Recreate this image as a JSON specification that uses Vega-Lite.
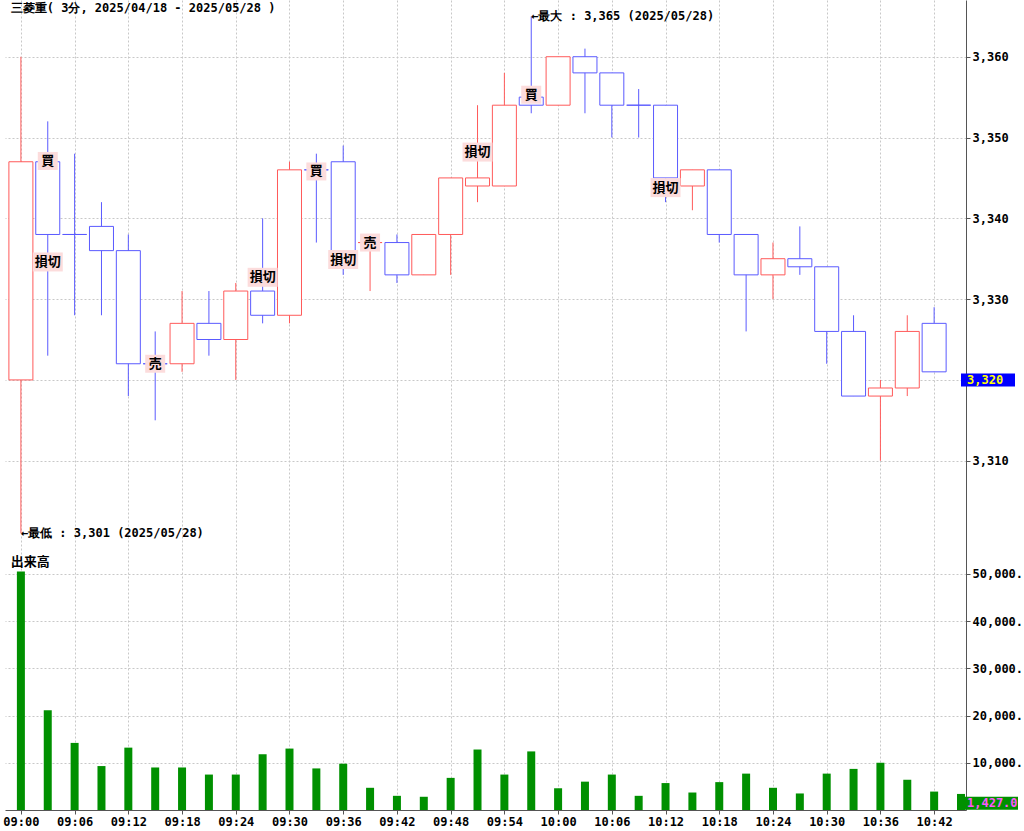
{
  "$schema": "https://vega.github.io/schema/vega-lite/v6.json",
  "width": 961,
  "height": 810,
  "autosize": {"type": "none"},
  "padding": {"left": 5, "top": 0, "right": 58, "bottom": 21},
  "background": "white",
  "config": {
    "view": {"stroke": null},
    "axis": {
      "labelFont": "DejaVu Sans Mono",
      "labelFontSize": 12,
      "labelFontWeight": "bold",
      "labelColor": "#000000",
      "gridColor": "#C8C8C8",
      "gridDash": [2, 2],
      "gridWidth": 1,
      "domainColor": "#555555",
      "tickColor": "#555555",
      "tickSize": 4,
      "labelPadding": 2
    }
  },
  "datasets": {
    "candles": [
      {"t": "2025-05-28T09:00:00", "open": 3320, "high": 3360, "low": 3301, "close": 3347, "dir": "up", "volume": 50500},
      {"t": "2025-05-28T09:03:00", "open": 3347, "high": 3352, "low": 3323, "close": 3338, "dir": "down", "volume": 21100},
      {"t": "2025-05-28T09:06:00", "open": 3338, "high": 3348, "low": 3328, "close": 3338, "dir": "down", "volume": 14200},
      {"t": "2025-05-28T09:09:00", "open": 3339, "high": 3342, "low": 3328, "close": 3336, "dir": "down", "volume": 9300},
      {"t": "2025-05-28T09:12:00", "open": 3336, "high": 3338, "low": 3318, "close": 3322, "dir": "down", "volume": 13200},
      {"t": "2025-05-28T09:15:00", "open": 3322, "high": 3326, "low": 3315, "close": 3322, "dir": "down", "volume": 9000},
      {"t": "2025-05-28T09:18:00", "open": 3322, "high": 3331, "low": 3321, "close": 3327, "dir": "up", "volume": 9000},
      {"t": "2025-05-28T09:21:00", "open": 3327, "high": 3331, "low": 3323, "close": 3325, "dir": "down", "volume": 7500},
      {"t": "2025-05-28T09:24:00", "open": 3325, "high": 3332, "low": 3320, "close": 3331, "dir": "up", "volume": 7500},
      {"t": "2025-05-28T09:27:00", "open": 3331, "high": 3340, "low": 3327, "close": 3328, "dir": "down", "volume": 11800},
      {"t": "2025-05-28T09:30:00", "open": 3328, "high": 3347, "low": 3327, "close": 3346, "dir": "up", "volume": 13000},
      {"t": "2025-05-28T09:33:00", "open": 3346, "high": 3348, "low": 3337, "close": 3346, "dir": "down", "volume": 8800},
      {"t": "2025-05-28T09:36:00", "open": 3347, "high": 3349, "low": 3333, "close": 3336, "dir": "down", "volume": 9800},
      {"t": "2025-05-28T09:39:00", "open": 3337, "high": 3338, "low": 3331, "close": 3337, "dir": "up", "volume": 4700},
      {"t": "2025-05-28T09:42:00", "open": 3337, "high": 3338, "low": 3332, "close": 3333, "dir": "down", "volume": 3000},
      {"t": "2025-05-28T09:45:00", "open": 3333, "high": 3338, "low": 3333, "close": 3338, "dir": "up", "volume": 2800},
      {"t": "2025-05-28T09:48:00", "open": 3338, "high": 3345, "low": 3333, "close": 3345, "dir": "up", "volume": 6800},
      {"t": "2025-05-28T09:51:00", "open": 3344, "high": 3354, "low": 3342, "close": 3345, "dir": "up", "volume": 12800},
      {"t": "2025-05-28T09:54:00", "open": 3344, "high": 3358, "low": 3344, "close": 3354, "dir": "up", "volume": 7500},
      {"t": "2025-05-28T09:57:00", "open": 3355, "high": 3365, "low": 3353, "close": 3354, "dir": "down", "volume": 12400},
      {"t": "2025-05-28T10:00:00", "open": 3354, "high": 3360, "low": 3354, "close": 3360, "dir": "up", "volume": 4600},
      {"t": "2025-05-28T10:03:00", "open": 3360, "high": 3361, "low": 3353, "close": 3358, "dir": "down", "volume": 6000},
      {"t": "2025-05-28T10:06:00", "open": 3358, "high": 3358, "low": 3350, "close": 3354, "dir": "down", "volume": 7500},
      {"t": "2025-05-28T10:09:00", "open": 3354, "high": 3356, "low": 3350, "close": 3354, "dir": "down", "volume": 3000},
      {"t": "2025-05-28T10:12:00", "open": 3354, "high": 3354, "low": 3342, "close": 3345, "dir": "down", "volume": 5700},
      {"t": "2025-05-28T10:15:00", "open": 3344, "high": 3346, "low": 3341, "close": 3346, "dir": "up", "volume": 3700},
      {"t": "2025-05-28T10:18:00", "open": 3346, "high": 3346, "low": 3337, "close": 3338, "dir": "down", "volume": 5900},
      {"t": "2025-05-28T10:21:00", "open": 3338, "high": 3338, "low": 3326, "close": 3333, "dir": "down", "volume": 7700},
      {"t": "2025-05-28T10:24:00", "open": 3333, "high": 3337, "low": 3330, "close": 3335, "dir": "up", "volume": 4700},
      {"t": "2025-05-28T10:27:00", "open": 3335, "high": 3339, "low": 3333, "close": 3334, "dir": "down", "volume": 3500},
      {"t": "2025-05-28T10:30:00", "open": 3334, "high": 3334, "low": 3322, "close": 3326, "dir": "down", "volume": 7700},
      {"t": "2025-05-28T10:33:00", "open": 3326, "high": 3328, "low": 3318, "close": 3318, "dir": "down", "volume": 8700},
      {"t": "2025-05-28T10:36:00", "open": 3318, "high": 3320, "low": 3310, "close": 3319, "dir": "up", "volume": 10000},
      {"t": "2025-05-28T10:39:00", "open": 3319, "high": 3328, "low": 3318, "close": 3326, "dir": "up", "volume": 6400},
      {"t": "2025-05-28T10:42:00", "open": 3327, "high": 3329, "low": 3321, "close": 3321, "dir": "down", "volume": 3900},
      {"t": "2025-05-28T10:45:00", "dir": "down", "volume": 3400}
    ],
    "signals": [
      {"t": "2025-05-28T09:03:00", "price": 3347.1, "label": "買"},
      {"t": "2025-05-28T09:03:00", "price": 3334.6, "label": "損切"},
      {"t": "2025-05-28T09:15:00", "price": 3322, "label": "売"},
      {"t": "2025-05-28T09:27:00", "price": 3332.7, "label": "損切"},
      {"t": "2025-05-28T09:33:00", "price": 3345.8, "label": "買"},
      {"t": "2025-05-28T09:36:00", "price": 3334.9, "label": "損切"},
      {"t": "2025-05-28T09:39:00", "price": 3337, "label": "売"},
      {"t": "2025-05-28T09:51:00", "price": 3348.2, "label": "損切"},
      {"t": "2025-05-28T09:57:00", "price": 3355.3, "label": "買"},
      {"t": "2025-05-28T10:12:00", "price": 3343.8, "label": "損切"}
    ],
    "notes": [
      {"t": "2025-05-28T08:58:52", "price": 3366, "note": "三菱重( 3分, 2025/04/18 - 2025/05/28 )"},
      {"t": "2025-05-28T09:57:00", "price": 3365, "note": "←最大 : 3,365 (2025/05/28)"},
      {"t": "2025-05-28T09:00:00", "price": 3301, "note": "←最低 : 3,301 (2025/05/28)"}
    ],
    "lastPrice": [
      {"t": "2025-05-28T10:45:00", "price": 3320, "text": "3,320"}
    ],
    "volNotes": [
      {"t": "2025-05-28T08:58:52", "volume": 52500, "note": "出来高"}
    ],
    "lastVolume": [
      {"t": "2025-05-28T10:45:00", "volume": 1427, "text": "1,427.0"}
    ]
  },
  "layer": [
    {
      "layer": [
        {
          "data": {"name": "candles"},
          "mark": {"type": "rule", "strokeWidth": 1},
          "encoding": {
            "x": {"field": "t", "type": "temporal", "title": null,
              "scale": {"domain": [{"year": 2025, "month": 5, "date": 28, "hours": 8, "minutes": 58, "seconds": 47}, {"year": 2025, "month": 5, "date": 28, "hours": 10, "minutes": 45}], "nice": false},
              "axis": {"orient": "bottom", "format": "%H:%M", "grid": true, "labelFlush": false, "labelOverlap": false, "title": null,
                "values": [
                  {"year": 2025, "month": 5, "date": 28, "hours": 9, "minutes": 0},
                  {"year": 2025, "month": 5, "date": 28, "hours": 9, "minutes": 6},
                  {"year": 2025, "month": 5, "date": 28, "hours": 9, "minutes": 12},
                  {"year": 2025, "month": 5, "date": 28, "hours": 9, "minutes": 18},
                  {"year": 2025, "month": 5, "date": 28, "hours": 9, "minutes": 24},
                  {"year": 2025, "month": 5, "date": 28, "hours": 9, "minutes": 30},
                  {"year": 2025, "month": 5, "date": 28, "hours": 9, "minutes": 36},
                  {"year": 2025, "month": 5, "date": 28, "hours": 9, "minutes": 42},
                  {"year": 2025, "month": 5, "date": 28, "hours": 9, "minutes": 48},
                  {"year": 2025, "month": 5, "date": 28, "hours": 9, "minutes": 54},
                  {"year": 2025, "month": 5, "date": 28, "hours": 10, "minutes": 0},
                  {"year": 2025, "month": 5, "date": 28, "hours": 10, "minutes": 6},
                  {"year": 2025, "month": 5, "date": 28, "hours": 10, "minutes": 12},
                  {"year": 2025, "month": 5, "date": 28, "hours": 10, "minutes": 18},
                  {"year": 2025, "month": 5, "date": 28, "hours": 10, "minutes": 24},
                  {"year": 2025, "month": 5, "date": 28, "hours": 10, "minutes": 30},
                  {"year": 2025, "month": 5, "date": 28, "hours": 10, "minutes": 36},
                  {"year": 2025, "month": 5, "date": 28, "hours": 10, "minutes": 42}
                ]}},
            "y": {"field": "low", "type": "quantitative", "title": null,
              "scale": {"domain": [3266.77, 3367.02], "nice": false, "zero": false},
              "axis": {"orient": "right", "values": [3310, 3320, 3330, 3340, 3350, 3360], "labelExpr": "datum.value == 3320 ? '' : format(datum.value, ',')", "grid": true, "title": null}},
            "y2": {"field": "high"},
            "stroke": {"field": "dir", "type": "nominal", "scale": {"domain": ["up", "down"], "range": ["#FF5A5A", "#5A5AFF"]}, "legend": null}
          }
        },
        {
          "data": {"name": "candles"},
          "mark": {"type": "bar", "width": 24, "fill": "white", "strokeWidth": 1},
          "encoding": {
            "x": {"field": "t", "type": "temporal", "title": null},
            "y": {"field": "open", "type": "quantitative", "title": null},
            "y2": {"field": "close"},
            "stroke": {"field": "dir", "type": "nominal", "legend": null}
          }
        },
        {
          "data": {"name": "signals"},
          "transform": [{"filter": "datum.label != '損切'"}],
          "mark": {"type": "rect", "color": "#FCDCDC", "xOffset": -10, "x2Offset": 10, "yOffset": -9, "y2Offset": 9},
          "encoding": {
            "x": {"field": "t", "type": "temporal", "title": null},
            "x2": {"field": "t"},
            "y": {"field": "price", "type": "quantitative", "title": null},
            "y2": {"field": "price"}
          }
        },
        {
          "data": {"name": "signals"},
          "transform": [{"filter": "datum.label == '損切'"}],
          "mark": {"type": "rect", "color": "#FCDCDC", "xOffset": -15, "x2Offset": 15, "yOffset": -9.5, "y2Offset": 9.5},
          "encoding": {
            "x": {"field": "t", "type": "temporal", "title": null},
            "x2": {"field": "t"},
            "y": {"field": "price", "type": "quantitative", "title": null},
            "y2": {"field": "price"}
          }
        },
        {
          "data": {"name": "signals"},
          "mark": {"type": "text", "font": "Noto Sans CJK JP", "fontSize": 13, "fontWeight": "bold", "color": "#000000", "align": "center", "baseline": "middle"},
          "encoding": {
            "x": {"field": "t", "type": "temporal", "title": null},
            "y": {"field": "price", "type": "quantitative", "title": null},
            "text": {"field": "label"}
          }
        },
        {
          "data": {"name": "notes"},
          "mark": {"type": "text", "font": "DejaVu Sans Mono", "fontSize": 12, "fontWeight": "bold", "color": "#000000", "align": "left", "baseline": "middle"},
          "encoding": {
            "x": {"field": "t", "type": "temporal", "title": null},
            "y": {"field": "price", "type": "quantitative", "title": null},
            "text": {"field": "note"}
          }
        },
        {
          "data": {"name": "lastPrice"},
          "mark": {"type": "rect", "color": "#0000FF", "x2Offset": 54, "yOffset": -6.5, "y2Offset": 6.5},
          "encoding": {
            "x": {"field": "t", "type": "temporal", "title": null},
            "x2": {"field": "t"},
            "y": {"field": "price", "type": "quantitative", "title": null},
            "y2": {"field": "price"}
          }
        },
        {
          "data": {"name": "lastPrice"},
          "mark": {"type": "text", "font": "DejaVu Sans Mono", "fontSize": 12, "fontWeight": "bold", "color": "#FFFF00", "align": "left", "baseline": "middle", "dx": 6},
          "encoding": {
            "x": {"field": "t", "type": "temporal", "title": null},
            "y": {"field": "price", "type": "quantitative", "title": null},
            "text": {"field": "text"}
          }
        }
      ]
    },
    {
      "layer": [
        {
          "data": {"name": "candles"},
          "mark": {"type": "bar", "width": 8, "color": "#009000", "clip": true},
          "encoding": {
            "x": {"field": "t", "type": "temporal", "title": null},
            "y": {"field": "volume", "type": "quantitative", "title": null,
              "scale": {"domain": [0, 171430], "nice": false, "zero": false},
              "axis": {"orient": "right", "values": [10000, 20000, 30000, 40000, 50000], "labelExpr": "format(datum.value, ',') + '.'", "grid": true, "domain": false, "title": null}}
          }
        },
        {
          "data": {"name": "volNotes"},
          "mark": {"type": "text", "font": "Noto Sans CJK JP", "fontSize": 13, "fontWeight": "bold", "color": "#000000", "align": "left", "baseline": "middle"},
          "encoding": {
            "x": {"field": "t", "type": "temporal", "title": null},
            "y": {"field": "volume", "type": "quantitative", "title": null},
            "text": {"field": "note"}
          }
        },
        {
          "data": {"name": "lastVolume"},
          "mark": {"type": "rect", "color": "#009000", "x2Offset": 57, "yOffset": -6.5, "y2Offset": 6.5},
          "encoding": {
            "x": {"field": "t", "type": "temporal", "title": null},
            "x2": {"field": "t"},
            "y": {"field": "volume", "type": "quantitative", "title": null},
            "y2": {"field": "volume"}
          }
        },
        {
          "data": {"name": "lastVolume"},
          "mark": {"type": "text", "font": "DejaVu Sans Mono", "fontSize": 12, "fontWeight": "bold", "color": "#FF55FF", "align": "left", "baseline": "middle", "dx": 6},
          "encoding": {
            "x": {"field": "t", "type": "temporal", "title": null},
            "y": {"field": "volume", "type": "quantitative", "title": null},
            "text": {"field": "text"}
          }
        }
      ]
    }
  ],
  "resolve": {"scale": {"y": "independent"}, "axis": {"y": "independent"}}
}
